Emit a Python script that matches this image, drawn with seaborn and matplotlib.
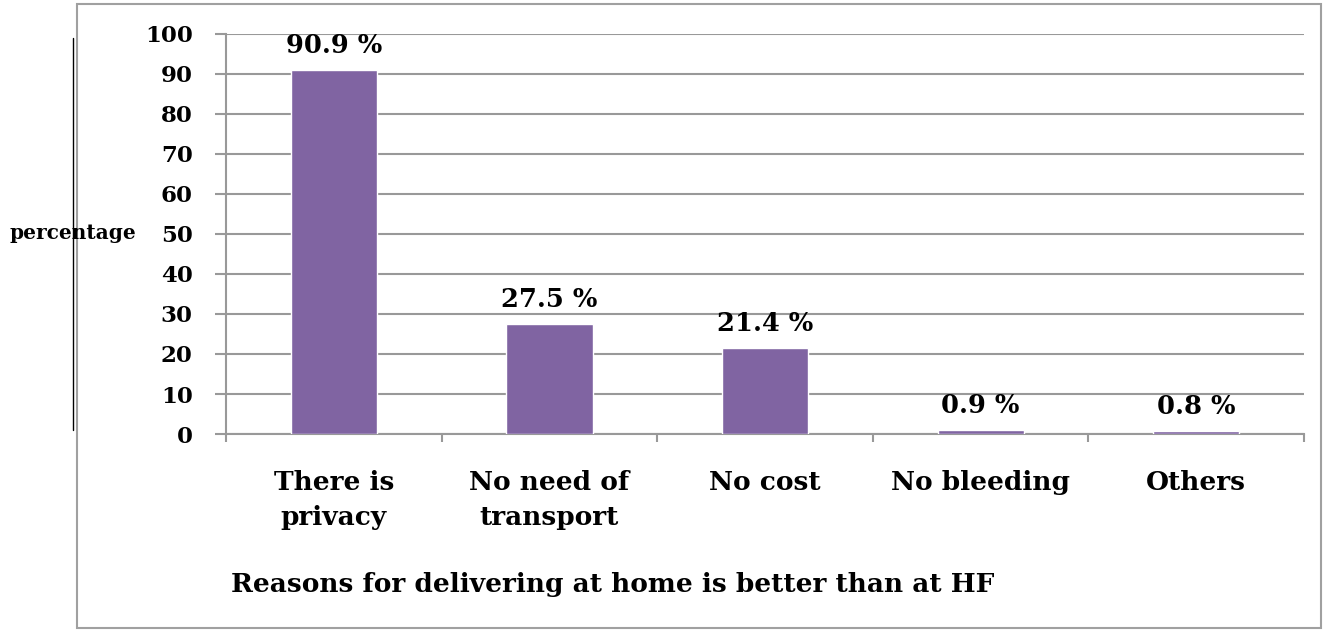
import matplotlib.pyplot as plt
import matplotlib.lines as mlines
import matplotlib.patches as mpatches
import seaborn as sns
import numpy as np
import pandas as pd

# datos
razones = ["There is\nprivacy", "No need of\ntransport", "No cost", "No bleeding", "Others"]
porcentajes = [90.9, 27.5, 21.4, 0.9, 0.8]
etiquetas = ["90.9 %", "27.5 %", "21.4 %", "0.9 %", "0.8 %"]
y_ticks = [0, 10, 20, 30, 40, 50, 60, 70, 80, 90, 100]

df = pd.DataFrame({"razon": razones, "pct": porcentajes})

sns.set_style("white")
plt.rcParams['font.family'] = ['DejaVu Serif']
plt.rcParams['font.weight'] = 'bold'
plt.rcParams['text.color'] = 'black'
plt.rcParams['xtick.labelcolor'] = 'black'
plt.rcParams['ytick.labelcolor'] = 'black'
plt.rcParams['axes.labelcolor'] = 'black'

fig = plt.figure(figsize=(13.25, 6.3), dpi=100)
ax = fig.add_axes([0.1706, 0.3111, 0.8136, 0.635])

sns.barplot(data=df, x="razon", y="pct", color="#8064A2", width=0.4,
            saturation=1, ax=ax, zorder=3)

gris = "#999999"
ax.set_ylim(0, 100)
ax.set_xlim(-0.5, len(razones) - 0.5)
ax.set_yticks(y_ticks)
ax.set_yticklabels([str(v) for v in y_ticks], fontsize=16.5, fontweight='bold')
ax.yaxis.grid(True, color=gris, linewidth=1.5, zorder=0)
ax.set_axisbelow(True)

for lado in ["top", "right"]:
    ax.spines[lado].set_visible(False)
for lado in ["left", "bottom"]:
    ax.spines[lado].set_color(gris)
    ax.spines[lado].set_linewidth(1.5)

ax.tick_params(axis='y', length=8, width=1.5, color=gris, labelcolor='black', pad=16, left=True)
ax.tick_params(axis='x', which='major', length=0, labelcolor='black', pad=26)
ax.set_xticks(np.arange(-0.5, len(razones)), minor=True)
ax.tick_params(axis='x', which='minor', length=6, width=1.5, color=gris, bottom=True)
ax.set_xticklabels(razones, fontsize=19, fontweight='bold', linespacing=1.5)

ax.set_xlabel("Reasons for delivering at home is better than at HF",
              fontsize=19, fontweight='bold', color='black')
ax.xaxis.set_label_coords(0.359, -0.345)
ax.set_ylabel("")

for i, (v, txt) in enumerate(zip(porcentajes, etiquetas)):
    ax.text(i, v + 3, txt, ha='center', va='bottom', fontsize=18.5,
            fontweight='bold', color='black')

fig.text(0.007, 0.63, "percentage", fontsize=14.5, fontweight='bold',
         va='center', color='black')

# marco exterior y linea vertical
fig.patches.append(mpatches.Rectangle((0.058, 0.003), 0.939, 0.99, transform=fig.transFigure,
                                      fill=False, edgecolor="#a0a0a0", linewidth=1.5))
fig.lines.append(mlines.Line2D([0.055, 0.055], [0.317, 0.94], transform=fig.transFigure,
                               color="black", linewidth=1))

fig.savefig("out.png", dpi=100)
